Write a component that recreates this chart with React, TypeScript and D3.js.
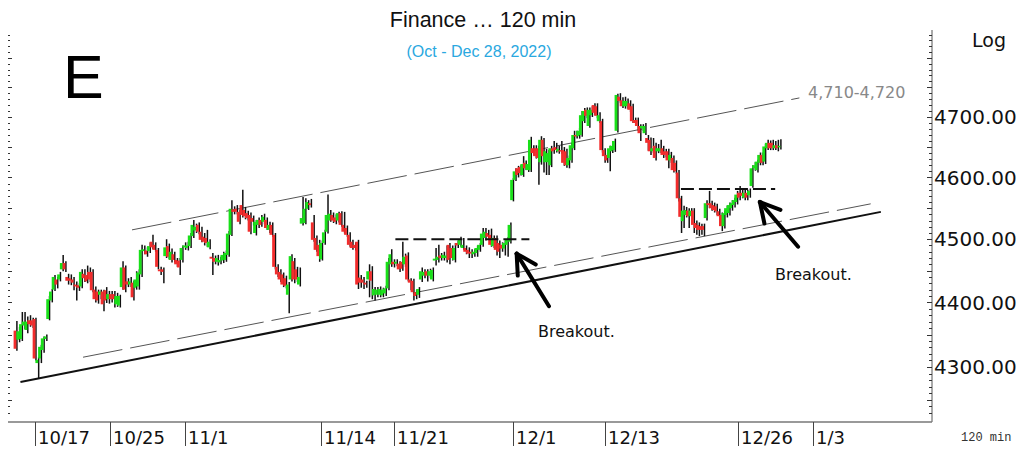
import React, { useEffect, useRef } from 'react';
import * as d3 from 'd3';

type Candle = [number, number, number, number]; // open, high, low, close

// Oct 13 - Nov 9 (120 min bars)
const candlesA: Candle[] = [
  [4356, 4371, 4325, 4328], [4342, 4362, 4338, 4355], [4343, 4385, 4340, 4366], [4364, 4385, 4358, 4370],
  [4357, 4378, 4352, 4370], [4372, 4380, 4362, 4366], [4372, 4376, 4360, 4364], [4374, 4376, 4310, 4313],
  [4306, 4315, 4283, 4311], [4313, 4334, 4306, 4331], [4326, 4347, 4322, 4344], [4343, 4350, 4340, 4347],
  [4374, 4410, 4372, 4405], [4403, 4421, 4400, 4417], [4420, 4443, 4418, 4440], [4436, 4440, 4422, 4428],
  [4436, 4448, 4433, 4444], [4452, 4475, 4449, 4462], [4462, 4465, 4448, 4452], [4440, 4445, 4428, 4434],
  [4438, 4444, 4427, 4434], [4436, 4440, 4419, 4431], [4428, 4433, 4403, 4425], [4427, 4430, 4418, 4423],
  [4425, 4452, 4422, 4448], [4445, 4452, 4432, 4438], [4443, 4458, 4430, 4433], [4448, 4455, 4432, 4436],
  [4448, 4452, 4416, 4419], [4420, 4425, 4400, 4405], [4417, 4420, 4398, 4403], [4412, 4420, 4405, 4417],
  [4417, 4420, 4386, 4397], [4419, 4424, 4399, 4403], [4405, 4418, 4398, 4413], [4413, 4418, 4400, 4405],
  [4413, 4418, 4392, 4405], [4397, 4415, 4393, 4410], [4395, 4412, 4392, 4410], [4424, 4465, 4420, 4455],
  [4455, 4458, 4416, 4420], [4433, 4438, 4424, 4428], [4428, 4440, 4424, 4433], [4431, 4434, 4403, 4408],
  [4423, 4449, 4420, 4436], [4425, 4452, 4420, 4447], [4444, 4491, 4440, 4483], [4481, 4490, 4476, 4484],
  [4482, 4487, 4472, 4476], [4481, 4495, 4478, 4489], [4496, 4507, 4484, 4487], [4491, 4495, 4480, 4483],
  [4483, 4486, 4452, 4456], [4452, 4456, 4443, 4449], [4452, 4455, 4430, 4448], [4473, 4500, 4470, 4487],
  [4489, 4493, 4468, 4472], [4467, 4485, 4463, 4480], [4476, 4480, 4463, 4467], [4467, 4470, 4456, 4460],
  [4466, 4470, 4443, 4455], [4467, 4490, 4463, 4486], [4487, 4495, 4483, 4490], [4486, 4496, 4482, 4490],
  [4489, 4510, 4486, 4506], [4505, 4531, 4502, 4523], [4514, 4525, 4510, 4520], [4523, 4527, 4508, 4512],
  [4512, 4520, 4495, 4499], [4504, 4510, 4490, 4496], [4502, 4515, 4488, 4494], [4487, 4500, 4484, 4496],
  [4472, 4478, 4443, 4469], [4470, 4474, 4460, 4464], [4464, 4475, 4458, 4470], [4463, 4472, 4460, 4467],
  [4466, 4480, 4462, 4475], [4467, 4482, 4464, 4478], [4475, 4513, 4472, 4509], [4507, 4563, 4505, 4549],
  [4548, 4553, 4540, 4544], [4549, 4555, 4540, 4544], [4544, 4548, 4524, 4528], [4555, 4580, 4535, 4539],
  [4547, 4552, 4532, 4537], [4542, 4546, 4530, 4534], [4539, 4543, 4508, 4512], [4534, 4538, 4522, 4528],
  [4510, 4531, 4506, 4528], [4523, 4535, 4518, 4531], [4531, 4539, 4520, 4523], [4528, 4541, 4524, 4536],
  [4531, 4535, 4515, 4518], [4515, 4528, 4510, 4523], [4523, 4527, 4504, 4507], [4507, 4510, 4452, 4456],
  [4456, 4460, 4440, 4444], [4448, 4452, 4432, 4436],
];

// Nov 9 - Nov 30
const candlesB: Candle[] = [
  [4444, 4447, 4424, 4428], [4438, 4442, 4422, 4426], [4412, 4432, 4383, 4428], [4436, 4476, 4433, 4473],
  [4465, 4470, 4430, 4436], [4452, 4456, 4432, 4436], [4428, 4455, 4425, 4440], [4525, 4568, 4522, 4534],
  [4526, 4566, 4524, 4549], [4549, 4563, 4547, 4560], [4558, 4565, 4551, 4555], [4527, 4539, 4496, 4499],
  [4502, 4506, 4480, 4483], [4491, 4499, 4464, 4473], [4468, 4498, 4466, 4494], [4494, 4515, 4491, 4511],
  [4512, 4572, 4509, 4539], [4530, 4547, 4528, 4541], [4539, 4543, 4526, 4530], [4535, 4540, 4524, 4528],
  [4530, 4544, 4527, 4542], [4542, 4545, 4520, 4523], [4523, 4544, 4509, 4512], [4518, 4522, 4504, 4507],
  [4507, 4511, 4488, 4491], [4496, 4499, 4483, 4486], [4491, 4495, 4482, 4486], [4496, 4499, 4421, 4428],
  [4439, 4443, 4423, 4431], [4436, 4440, 4421, 4431], [4431, 4434, 4423, 4428], [4436, 4460, 4408, 4449],
  [4449, 4457, 4405, 4434], [4411, 4424, 4403, 4421], [4412, 4424, 4408, 4420], [4412, 4425, 4408, 4421],
  [4411, 4423, 4408, 4420], [4414, 4426, 4410, 4422], [4422, 4470, 4419, 4464], [4460, 4484, 4456, 4476],
  [4464, 4468, 4455, 4460], [4461, 4468, 4457, 4464], [4461, 4465, 4448, 4452], [4464, 4496, 4450, 4453],
  [4460, 4477, 4456, 4472], [4474, 4479, 4433, 4436], [4436, 4438, 4419, 4431], [4434, 4437, 4403, 4416],
  [4416, 4420, 4405, 4410], [4412, 4424, 4407, 4421], [4436, 4455, 4432, 4449], [4442, 4452, 4438, 4448],
  [4449, 4452, 4433, 4442], [4442, 4453, 4438, 4449], [4436, 4455, 4433, 4451], [4466, 4486, 4458, 4469],
  [4467, 4491, 4463, 4472], [4474, 4478, 4466, 4470], [4470, 4480, 4466, 4475], [4470, 4490, 4463, 4474],
  [4491, 4494, 4460, 4467], [4486, 4490, 4466, 4470], [4467, 4494, 4463, 4486], [4494, 4498, 4486, 4490],
  [4491, 4504, 4488, 4499], [4486, 4502, 4483, 4491], [4486, 4490, 4476, 4480], [4483, 4487, 4470, 4477],
  [4480, 4484, 4470, 4477], [4476, 4484, 4472, 4480], [4478, 4490, 4472, 4486], [4483, 4494, 4480, 4491],
  [4491, 4518, 4488, 4509], [4502, 4518, 4498, 4512], [4510, 4515, 4500, 4504], [4507, 4517, 4488, 4491],
  [4489, 4506, 4486, 4502], [4502, 4506, 4474, 4483], [4494, 4498, 4470, 4480], [4491, 4495, 4480, 4485],
  [4485, 4498, 4474, 4494], [4491, 4503, 4472, 4499], [4496, 4527, 4493, 4523],
];

// Dec 1 - Dec 28
const candlesC: Candle[] = [
  [4563, 4599, 4561, 4596], [4596, 4615, 4594, 4610], [4615, 4619, 4600, 4604], [4617, 4620, 4603, 4607],
  [4604, 4635, 4601, 4622], [4624, 4628, 4612, 4615], [4612, 4637, 4609, 4622], [4612, 4667, 4609, 4662],
  [4648, 4653, 4636, 4640], [4648, 4653, 4631, 4635], [4648, 4652, 4588, 4632], [4625, 4668, 4621, 4662],
  [4662, 4665, 4608, 4635], [4625, 4647, 4604, 4643], [4625, 4645, 4604, 4640], [4620, 4652, 4617, 4648],
  [4648, 4660, 4639, 4643], [4650, 4657, 4641, 4645], [4643, 4652, 4639, 4647], [4645, 4660, 4639, 4643],
  [4645, 4650, 4619, 4624], [4643, 4647, 4616, 4620], [4620, 4636, 4615, 4632], [4628, 4657, 4624, 4653],
  [4648, 4677, 4645, 4670], [4670, 4677, 4664, 4668], [4668, 4682, 4664, 4677], [4670, 4710, 4667, 4703],
  [4693, 4715, 4690, 4710], [4712, 4716, 4698, 4702], [4685, 4716, 4682, 4712], [4703, 4718, 4700, 4712],
  [4720, 4723, 4703, 4707], [4718, 4723, 4698, 4702], [4693, 4708, 4690, 4703], [4693, 4697, 4641, 4645],
  [4645, 4648, 4624, 4635], [4637, 4640, 4624, 4628], [4632, 4652, 4610, 4648], [4643, 4660, 4640, 4652],
  [4645, 4664, 4642, 4660], [4677, 4739, 4674, 4737], [4734, 4740, 4724, 4727], [4728, 4733, 4715, 4718],
  [4718, 4734, 4714, 4727], [4718, 4731, 4714, 4727], [4723, 4728, 4708, 4712], [4718, 4722, 4690, 4693],
  [4695, 4699, 4686, 4690], [4695, 4699, 4677, 4685], [4685, 4688, 4660, 4673], [4681, 4688, 4677, 4685],
  [4673, 4690, 4670, 4685], [4665, 4670, 4644, 4657], [4662, 4666, 4637, 4643], [4643, 4665, 4640, 4648],
  [4652, 4657, 4628, 4632], [4643, 4655, 4640, 4648], [4643, 4662, 4640, 4648], [4648, 4652, 4632, 4637],
  [4643, 4647, 4633, 4637], [4643, 4647, 4615, 4628], [4628, 4642, 4624, 4637], [4632, 4636, 4608, 4612],
  [4624, 4628, 4606, 4610], [4608, 4612, 4561, 4566], [4566, 4570, 4510, 4536], [4529, 4554, 4518, 4546],
  [4539, 4552, 4535, 4547], [4546, 4550, 4518, 4537], [4537, 4550, 4533, 4546], [4546, 4550, 4510, 4523],
  [4526, 4530, 4507, 4518], [4523, 4527, 4505, 4515], [4521, 4525, 4507, 4515], [4521, 4525, 4505, 4515],
  [4534, 4563, 4530, 4558], [4558, 4578, 4550, 4555], [4558, 4562, 4546, 4550], [4555, 4559, 4543, 4547],
  [4553, 4557, 4539, 4545], [4545, 4549, 4531, 4537], [4539, 4543, 4513, 4521], [4521, 4546, 4517, 4542],
  [4539, 4554, 4535, 4550], [4542, 4559, 4538, 4555], [4550, 4563, 4546, 4558], [4555, 4567, 4551, 4563],
  [4560, 4578, 4556, 4572], [4575, 4586, 4563, 4567], [4575, 4580, 4566, 4570], [4567, 4580, 4563, 4575],
  [4575, 4580, 4563, 4567], [4571, 4582, 4567, 4578], [4586, 4620, 4583, 4615], [4615, 4625, 4611, 4620],
  [4612, 4629, 4608, 4626], [4624, 4641, 4620, 4637], [4637, 4641, 4620, 4624], [4626, 4655, 4622, 4651],
  [4648, 4662, 4645, 4657], [4657, 4661, 4645, 4648], [4657, 4662, 4645, 4648], [4648, 4660, 4645, 4653],
  [4653, 4662, 4643, 4648], [4650, 4663, 4646, 4652],
];

// bar index anchors where the sessions join (time axis is not uniform)
const barAnchors = [0, 97, 180, 286];

const dateLabels = ['10/17', '10/25', '11/1', '11/14', '11/21', '12/1', '12/13', '12/26', '1/3'];
const dateBars = [7.4, 35, 62.5, 112, 138.5, 181.5, 217.5, 270, 299.5];

const priceLabels = [4300, 4400, 4500, 4600, 4700];

// trend lines: [barIndex, price] pairs
const channelUpper = [[43, 4515], [294, 4732]];
const channelLower = [[25, 4315], [322, 4557]];
const supportLine = [[2, 4277], [326, 4544]];
const breakoutLevels = [
  { from: 139, to: 188, price: 4500 },
  { from: 247.5, to: 284.5, price: 4581 },
];
const arrows = [
  { tip: [183, 4477], tail: [195.7, 4394] },
  { tip: [278.5, 4560], tail: [293.5, 4488] },
];

const W = 1021;
const H = 451;

const App = () => {
  const ref = useRef<SVGSVGElement>(null);

  useEffect(() => {
    if (!ref.current) return;
    const svg = d3.select(ref.current);
    svg.selectAll('*').remove();

    const candles = [...candlesA, ...candlesB, ...candlesC];

    const plotLeft = 8;
    const plotRight = 932;
    const plotTop = 30;
    const plotBottom = 422;

    const x = d3.scaleLinear().domain(barAnchors).range([15, 279, 509, 779]);
    const y = d3.scaleLog().domain([4300, 4700]).range([367, 117]);

    const sans = 'Liberation Sans, Arial, sans-serif';
    const verd = 'DejaVu Sans, Verdana, sans-serif';

    svg.append('rect').attr('width', W).attr('height', H).attr('fill', '#fff');

    // titles
    svg.append('text').attr('x', 483).attr('y', 27).attr('text-anchor', 'middle')
      .style('font-family', sans).style('font-size', '21.5px').attr('fill', '#111')
      .text('Finance \u2026 120 min');
    svg.append('text').attr('x', 479).attr('y', 57).attr('text-anchor', 'middle')
      .style('font-family', sans).style('font-size', '16px').attr('fill', '#2aa8e0')
      .text('(Oct - Dec 28, 2022)');
    svg.append('text').attr('x', 63).attr('y', 98)
      .style('font-family', sans).style('font-size', '61px').attr('fill', '#000')
      .text('E');

    // axes frame
    svg.append('line').attr('x1', plotRight).attr('x2', plotRight).attr('y1', plotTop).attr('y2', plotBottom)
      .attr('stroke', '#555').attr('stroke-width', 1);
    svg.append('line').attr('x1', plotLeft).attr('x2', plotRight).attr('y1', plotBottom).attr('y2', plotBottom)
      .attr('stroke', '#777').attr('stroke-width', 1.5);

    // minor ticks every 10 points on both edges
    const tickVals = d3.range(4210, 4860, 10).filter(v => y(v) >= plotTop && y(v) <= plotBottom - 3);
    const ticks = svg.append('g').attr('stroke', '#333').attr('stroke-width', 1);
    tickVals.forEach(v => {
      const yy = Math.round(y(v)) + 0.5;
      const len = v % 50 === 0 ? 4 : 2;
      ticks.append('line').attr('x1', plotLeft).attr('x2', plotLeft + len).attr('y1', yy).attr('y2', yy);
      ticks.append('line').attr('x1', plotRight - len - 1).attr('x2', plotRight).attr('y1', yy).attr('y2', yy);
    });

    // price labels
    svg.append('g').selectAll('text').data(priceLabels).join('text')
      .attr('x', 934).attr('y', d => y(d)).attr('dy', '0.36em')
      .style('font-family', verd).style('font-size', '20px').attr('fill', '#111')
      .text(d => d.toFixed(2));
    svg.append('text').attr('x', 972).attr('y', 47)
      .style('font-family', verd).style('font-size', '19px').attr('fill', '#111').text('Log');

    // date ticks
    const dates = svg.append('g');
    dateLabels.forEach((lab, i) => {
      const xx = Math.round(x(dateBars[i])) + 0.5;
      dates.append('line').attr('x1', xx).attr('x2', xx).attr('y1', plotBottom).attr('y2', 446)
        .attr('stroke', '#444').attr('stroke-width', 1);
      dates.append('text').attr('x', xx + 2.5).attr('y', 444)
        .style('font-family', verd).style('font-size', '18px').attr('fill', '#111').text(lab);
    });
    svg.append('text').attr('x', 961).attr('y', 441)
      .style('font-family', 'Liberation Mono, Courier New, monospace').style('font-size', '12px')
      .attr('fill', '#333').text('120 min');

    // channel lines
    const drawLine = (pts: number[][], stroke: string, w: number, dash: string | null) => {
      const l = svg.append('line')
        .attr('x1', x(pts[0][0])).attr('y1', y(pts[0][1]))
        .attr('x2', x(pts[1][0])).attr('y2', y(pts[1][1]))
        .attr('stroke', stroke).attr('stroke-width', w);
      if (dash) l.attr('stroke-dasharray', dash);
    };
    drawLine(channelUpper, '#555', 1, '40 8');
    drawLine(channelLower, '#555', 1, '40 8');
    drawLine(supportLine, '#111', 2, null);

    svg.append('text').attr('x', 808).attr('y', 98)
      .style('font-family', verd).style('font-size', '16px').attr('fill', '#888')
      .text('4,710-4,720');

    // candles
    const g = svg.append('g');
    candles.forEach((c, i) => {
      const [o, h, l, cl] = c;
      const cx = x(i);
      const up = cl >= o;
      g.append('line').attr('x1', cx + 1.9).attr('x2', cx + 1.9).attr('y1', y(h)).attr('y2', y(l))
        .attr('stroke', '#111').attr('stroke-width', 1.5);
      const top = y(Math.max(o, cl));
      const bot = y(Math.min(o, cl));
      g.append('rect').attr('x', cx - 1.4).attr('y', top).attr('width', 2.8)
        .attr('height', Math.max(1.5, bot - top))
        .attr('fill', up ? '#19e019' : '#f22c2c');
    });

    // breakout levels
    breakoutLevels.forEach(b => {
      svg.append('line').attr('x1', x(b.from)).attr('x2', x(b.to))
        .attr('y1', y(b.price)).attr('y2', y(b.price))
        .attr('stroke', '#111').attr('stroke-width', 2).attr('stroke-dasharray', '13 5');
    });

    // arrows
    arrows.forEach(a => {
      const tx = x(a.tip[0]);
      const ty = y(a.tip[1]);
      const bx = x(a.tail[0]);
      const by = y(a.tail[1]);
      const ang = Math.atan2(by - ty, bx - tx);
      const arm = 22;
      const spread = 0.5;
      const ag = svg.append('g').attr('stroke', '#000').attr('stroke-width', 4).attr('stroke-linecap', 'round');
      ag.append('line').attr('x1', tx).attr('y1', ty).attr('x2', bx).attr('y2', by);
      [-spread, spread].forEach(s => {
        ag.append('line').attr('x1', tx).attr('y1', ty)
          .attr('x2', tx + arm * Math.cos(ang + s)).attr('y2', ty + arm * Math.sin(ang + s));
      });
    });

    svg.append('text').attr('x', 538).attr('y', 337)
      .style('font-family', verd).style('font-size', '16px').attr('fill', '#111').text('Breakout.');
    svg.append('text').attr('x', 775).attr('y', 280)
      .style('font-family', verd).style('font-size', '16px').attr('fill', '#111').text('Breakout.');
  }, []);

  return (
    <svg ref={ref} width={W} height={H} style={{ position: 'absolute', left: 0, top: 0 }} />
  );
};

export default App;
